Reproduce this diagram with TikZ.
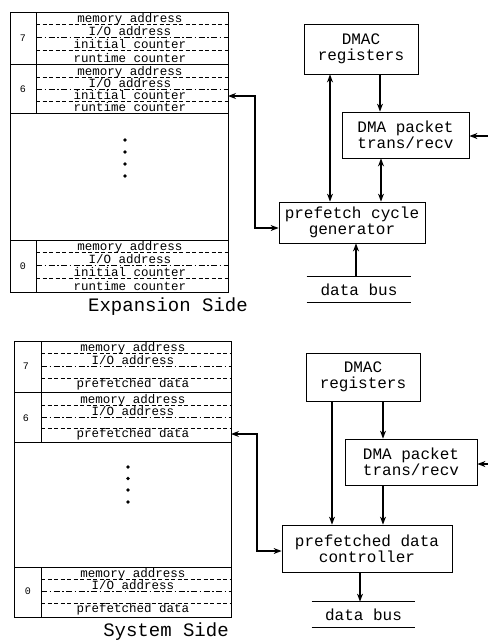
\documentclass[tikz,border=0pt]{standalone}
\usepackage{fontspec}
\setmonofont{Liberation Mono}
\usetikzlibrary{arrows.meta}
\begin{document}
\begin{tikzpicture}[x=1pt,y=-1pt,
    >={Stealth[length=8pt,width=6pt]},
    line width=.8pt,
    field/.style={anchor=base,inner sep=0pt,font=\ttfamily\fontsize{12.5}{13}\selectfont},
    slot/.style={font=\ttfamily\fontsize{10}{12}\selectfont},
    sep/.style={line width=.6pt,dash pattern=on 4pt off 2.5pt},
    dotsep/.style={line width=.6pt,dash pattern=on 6pt off 2.5pt on 1.5pt off 2.5pt},
    unit/.style={draw,align=center,inner sep=0pt,font=\ttfamily\fontsize{16}{16}\selectfont},
    bus/.style={inner sep=0pt,minimum height=25pt,font=\ttfamily\fontsize{16}{16}\selectfont},
    link/.style={line width=1.1pt},
    caption/.style={font=\ttfamily\fontsize{19}{20}\selectfont}]
  \useasboundingbox (0,0) rectangle (488,641);

  % expansion side
  \begin{scope}
    \draw (10,12) rectangle (228,292);
    \draw (10,64) -- (228,64);
    \draw (10,113) -- (228,113);
    \draw (10,240) -- (228,240);
    \draw (36,12) -- (36,113);
    \draw (36,240) -- (36,292);

    \draw[sep] (36,24.5) -- (228,24.5);
    \draw[dotsep] (36,37) -- (228,37);
    \draw[sep] (36,50) -- (228,50);
    \node[slot] at (23,38) {7};
    \node[field] at (130,22) {memory address};
    \node[field] at (130,35.5) {I/O address};
    \node[field] at (130,48) {initial counter};
    \node[field] at (130,62.5) {runtime counter};

    \draw[sep] (36,77) -- (228,77);
    \draw[dotsep] (36,89) -- (228,89);
    \draw[sep] (36,101) -- (228,101);
    \node[slot] at (23,89) {6};
    \node[field] at (130,75) {memory address};
    \node[field] at (130,87.5) {I/O address};
    \node[field] at (130,99.5) {initial counter};
    \node[field] at (130,111.5) {runtime counter};

    \fill (125,140) circle (1.8pt);
    \fill (125,152) circle (1.8pt);
    \fill (125,164) circle (1.8pt);
    \fill (125,176) circle (1.8pt);

    \draw[sep] (36,252.5) -- (228,252.5);
    \draw[dotsep] (36,265) -- (228,265);
    \draw[sep] (36,278) -- (228,278);
    \node[slot] at (23,266) {0};
    \node[field] at (130,250.5) {memory address};
    \node[field] at (130,263.5) {I/O address};
    \node[field] at (130,276) {initial counter};
    \node[field] at (130,290.5) {runtime counter};

    \node[caption] (capE) at (168,307) {Expansion Side};

    \node[unit,minimum width=114pt,minimum height=50pt] (dmacE) at (361,49) {DMAC\\registers};
    \node[unit,minimum width=127pt,minimum height=46pt] (pktE) at (405.5,135) {DMA packet\\trans/recv};
    \node[unit,minimum width=146pt,minimum height=41pt] (genE) at (352,222.5) {prefetch cycle\\generator};
    \node[bus,minimum width=104pt] (busE) at (359,289.5) {data bus};
    \draw (busE.north west) -- (busE.north east);
    \draw (busE.south west) -- (busE.south east);

    \coordinate (expE) at (228,96);
    \coordinate (inE) at (488,136);
    \draw[link,<->] (dmacE.south -| 330,0) -- (genE.north -| 330,0);
    \draw[link,->] (dmacE.south -| 380,0) -- (pktE.north -| 380,0);
    \draw[link,<->] (pktE.south -| 381,0) -- (genE.north -| 381,0);
    \draw[link,->] (busE.north -| 356,0) -- (genE.south -| 356,0);
    \draw[link,<->] (expE) -- ++(27,0) |- ([yshift=-5.5pt]genE.west);
    \draw[link,->] (inE) -- (pktE.east |- inE);
  \end{scope}

  % system side
  \begin{scope}
    \draw (14,341) rectangle (231,617);
    \draw (14,392) -- (231,392);
    \draw (14,442) -- (231,442);
    \draw (14,567) -- (231,567);
    \draw (41,341) -- (41,442);
    \draw (41,567) -- (41,617);

    \draw[sep] (41,353) -- (231,353);
    \draw[dotsep] (41,366) -- (231,366);
    \draw[sep] (41,378) -- (231,378);
    \node[slot] at (26,366) {7};
    \node[field] at (133,351) {memory address};
    \node[field] at (133,364) {I/O address};
    \node[field] at (133,387) {prefetched data};

    \draw[sep] (41,405) -- (231,405);
    \draw[dotsep] (41,417) -- (231,417);
    \draw[sep] (41,428) -- (231,428);
    \node[slot] at (26,418) {6};
    \node[field] at (133,403) {memory address};
    \node[field] at (133,415) {I/O address};
    \node[field] at (133,437) {prefetched data};

    \fill (128,467) circle (1.8pt);
    \fill (128,478.5) circle (1.8pt);
    \fill (128,490) circle (1.8pt);
    \fill (128,502) circle (1.8pt);

    \draw[sep] (41,579) -- (231,579);
    \draw[dotsep] (41,591) -- (231,591);
    \draw[sep] (41,603) -- (231,603);
    \node[slot] at (28,591) {0};
    \node[field] at (133,577) {memory address};
    \node[field] at (133,589) {I/O address};
    \node[field] at (133,612) {prefetched data};

    \node[caption] (capS) at (166,632) {System Side};

    \node[unit,minimum width=114pt,minimum height=48pt] (dmacS) at (363,377) {DMAC\\registers};
    \node[unit,minimum width=132pt,minimum height=46pt] (pktS) at (411,462) {DMA packet\\trans/recv};
    \node[unit,minimum width=170pt,minimum height=47pt] (ctrlS) at (367,548.5) {prefetched data\\controller};
    \node[bus,minimum width=103pt] (busS) at (363.5,614.5) {data bus};
    \draw (busS.north west) -- (busS.north east);
    \draw (busS.south west) -- (busS.south east);

    \coordinate (sysS) at (231,434);
    \coordinate (inS) at (488,464);
    \draw[link,->] (dmacS.south -| 332,0) -- (ctrlS.north -| 332,0);
    \draw[link,->] (dmacS.south -| 383,0) -- (pktS.north -| 383,0);
    \draw[link,->] (pktS.south -| 383,0) -- (ctrlS.north -| 383,0);
    \draw[link,->] (ctrlS.south -| 360,0) -- (busS.north -| 360,0);
    \draw[link,<->] (sysS) -- ++(26,0) |- ([yshift=-2.5pt]ctrlS.west);
    \draw[link,->] (inS) -- (pktS.east |- inS);
  \end{scope}
\end{tikzpicture}
\end{document}
